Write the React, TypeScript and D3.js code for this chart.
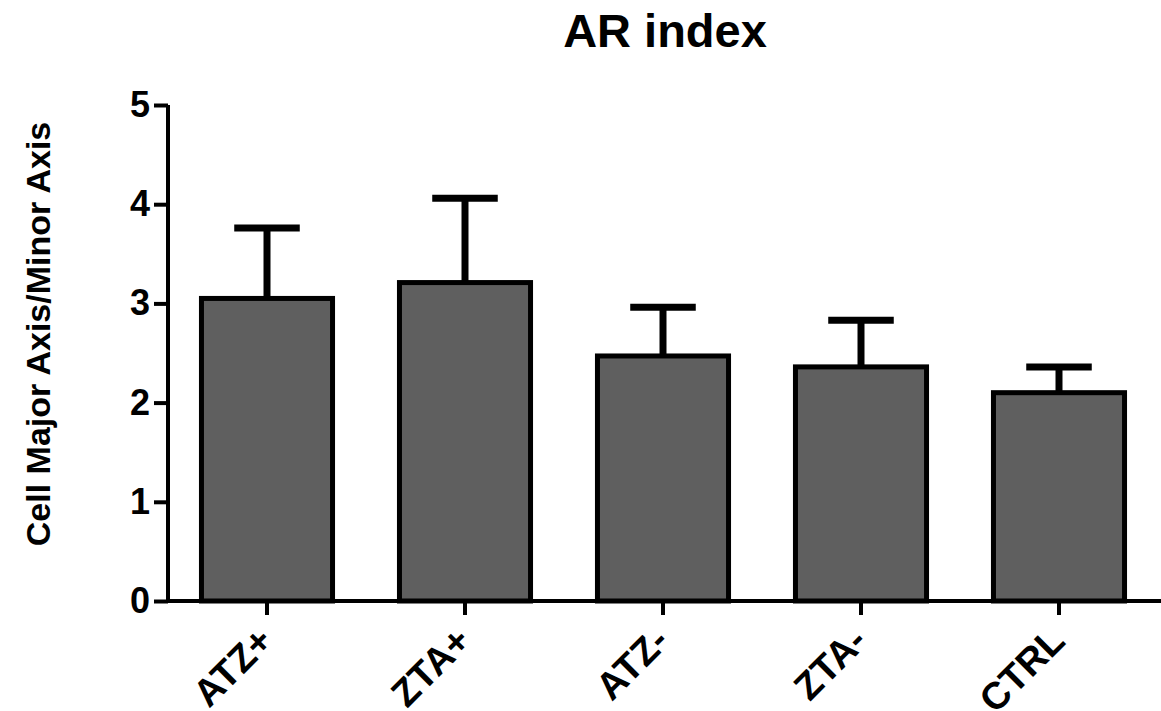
import React, { useRef, useEffect } from "react";
import * as d3 from "d3";

// groups along the x axis
const CATEGORIES = ["ATZ+", "ZTA+", "ATZ-", "ZTA-", "CTRL"];
// mean AR index per group
const MEANS = [3.05, 3.21, 2.47, 2.36, 2.1];
// upper error bar end (mean + SD)
const UPPER = [3.76, 4.06, 2.96, 2.83, 2.36];
const Y_TICKS = [0, 1, 2, 3, 4, 5];

export default function App() {
  const svgRef = useRef<SVGSVGElement>(null);

  useEffect(() => {
    const W = 1161;
    const H = 711;
    const M = { top: 105, left: 168 };
    const font = "'Liberation Sans', Arial, sans-serif";

    const svg = d3.select(svgRef.current);
    svg.selectAll("*").remove();
    svg.attr("width", W).attr("height", H).style("font-family", font);

    const data = CATEGORIES.map((c, i) => ({ cat: c, mean: MEANS[i], up: UPPER[i] }));

    /* ---- scales ---- */
    const x = d3
      .scaleBand<string>()
      .domain(CATEGORIES)
      .range([M.left, 1158])
      .paddingInner(0.338)
      .paddingOuter(0.169);

    const y = d3.scaleLinear().domain([0, 5]).range([601, M.top]);

    /* ---- title ---- */
    svg
      .append("text")
      .attr("x", 665)
      .attr("y", 47)
      .attr("text-anchor", "middle")
      .style("font-size", "47px")
      .style("font-weight", "bold")
      .text("AR index");

    /* ---- error bars (behind bars) ---- */
    const capW = x.bandwidth() / 2;
    const eb = svg.append("g").attr("stroke", "#000").attr("stroke-width", 7);
    data.forEach((d) => {
      const cx = x(d.cat)! + x.bandwidth() / 2;
      eb.append("line").attr("x1", cx).attr("x2", cx).attr("y1", y(d.mean)).attr("y2", y(d.up));
      eb.append("line")
        .attr("x1", cx - capW / 2)
        .attr("x2", cx + capW / 2)
        .attr("y1", y(d.up))
        .attr("y2", y(d.up));
    });

    /* ---- bars ---- */
    svg
      .append("g")
      .selectAll("rect")
      .data(data)
      .enter()
      .append("rect")
      .attr("x", (d) => x(d.cat)!)
      .attr("y", (d) => y(d.mean))
      .attr("width", x.bandwidth())
      .attr("height", (d) => y(0) - y(d.mean))
      .attr("fill", "#5f5f5f")
      .attr("stroke", "#000")
      .attr("stroke-width", 5);

    /* ---- y axis ---- */
    const ya = svg
      .append("g")
      .attr("transform", `translate(${M.left},0)`)
      .call(d3.axisLeft(y).tickValues(Y_TICKS).tickSize(14).tickPadding(4).tickFormat(d3.format("d")));
    ya.select(".domain").attr("stroke-width", 4).attr("d", `M0,${y(5)}V${y(0)}`);
    ya.selectAll(".tick line").attr("stroke-width", 4);
    ya.selectAll(".tick text")
      .attr("fill", "#000")
      .style("font-size", "36px")
      .style("font-weight", "bold")
      .style("font-family", font);

    /* ---- x axis ---- */
    const xa = svg
      .append("g")
      .attr("transform", `translate(0,${y(0)})`)
      .call(d3.axisBottom(x).tickSize(14).tickSizeOuter(0));
    xa.select(".domain").attr("stroke-width", 4).attr("d", `M${M.left - 2},0H${W}`);
    xa.selectAll(".tick line").attr("stroke-width", 4);
    xa.selectAll(".tick text")
      .attr("fill", "#000")
      .attr("text-anchor", "end")
      .attr("transform", "translate(8,42) rotate(-45)")
      .attr("dy", 0)
      .attr("y", 0)
      .style("font-size", "38px")
      .style("font-weight", "bold")
      .style("font-family", font);

    /* ---- y label ---- */
    svg
      .append("text")
      .attr("transform", `translate(50,334) rotate(-90)`)
      .attr("text-anchor", "middle")
      .style("font-size", "34px")
      .style("font-weight", "bold")
      .text("Cell Major Axis/Minor Axis");
  }, []);

  return <svg ref={svgRef} style={{ position: "absolute", left: 0, top: 0 }} />;
}
